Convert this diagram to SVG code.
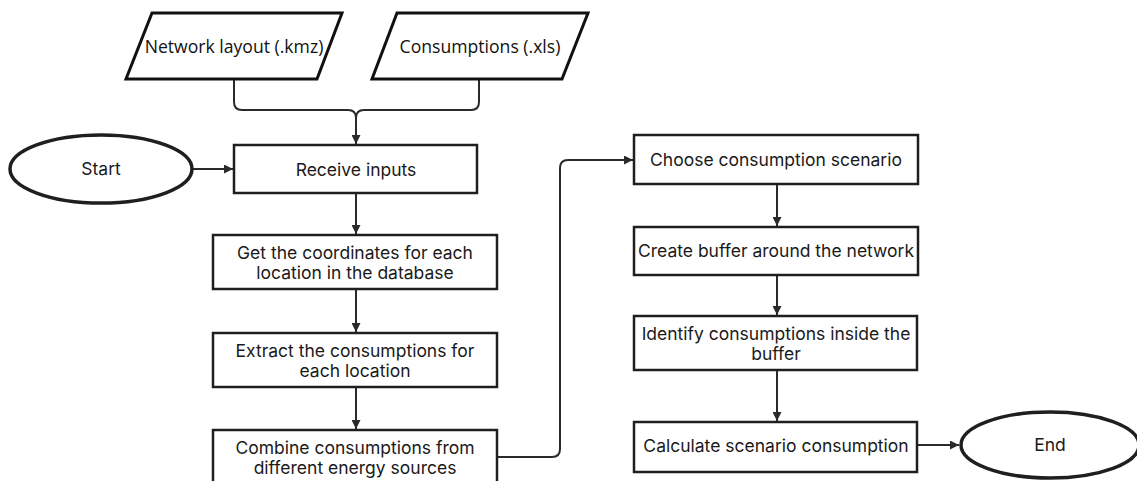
<svg xmlns="http://www.w3.org/2000/svg" width="1137" height="481" viewBox="0 0 1137 481">
<defs>
<style>
.box{fill:#fff;stroke:#1f1f1f;stroke-width:2.5}
.para{fill:#fff;stroke:#111;stroke-width:3}
.oval{fill:#fff;stroke:#1f1f1f;stroke-width:3.5}
.t{font-family:Inter,"Liberation Sans",sans-serif;font-size:17.5px;fill:#1a1a1a;text-anchor:middle}
.tp{font-family:"Open Sans","Liberation Sans",sans-serif;font-size:17.6px;fill:#111;text-anchor:middle}
.c{fill:none;stroke:#2a2a2a;stroke-width:2}
</style>
<marker id="ah" viewBox="0 0 10 10" refX="10" refY="5" markerWidth="9" markerHeight="9" orient="auto" markerUnits="userSpaceOnUse">
<path d="M0,0 L10,5 L0,10 z" fill="#2a2a2a"/>
</marker>
</defs>
<g id="connectors">
<path class="c" d="M234,79 V102 Q234,110 242,110 H348 Q356,110 356,118 V144" marker-end="url(#ah)"/>
<path class="c" d="M479,79 V102 Q479,110 471,110 H364 Q356,110 356,118"/>
<path class="c" d="M193,169 H233" marker-end="url(#ah)"/>
<path class="c" d="M356,193 V234" marker-end="url(#ah)"/>
<path class="c" d="M356,289 V332" marker-end="url(#ah)"/>
<path class="c" d="M356,387 V429" marker-end="url(#ah)"/>
<path class="c" d="M497,457 H552 Q560,457 560,449 V168 Q560,160 568,160 H633" marker-end="url(#ah)"/>
<path class="c" d="M777,184 V226" marker-end="url(#ah)"/>
<path class="c" d="M777,275 V315" marker-end="url(#ah)"/>
<path class="c" d="M777,370 V421" marker-end="url(#ah)"/>
<path class="c" d="M917,445 H959" marker-end="url(#ah)"/>
</g>
<g id="network-layout">
<polygon class="para" points="152,13 342,13 317,79 126,79"/>
<text class="tp" x="234" y="53">Network layout (.kmz)</text>
</g>
<g id="consumptions-xls">
<polygon class="para" points="397,13 588,13 562,79 372,79"/>
<text class="tp" x="480" y="53">Consumptions (.xls)</text>
</g>
<g id="start">
<ellipse class="oval" cx="101" cy="169" rx="91" ry="34"/>
<text class="t" x="101" y="175">Start</text>
</g>
<g id="receive-inputs">
<rect class="box" x="234" y="145" width="243" height="48"/>
<text class="t" x="356" y="176">Receive inputs</text>
</g>
<g id="get-coordinates">
<rect class="box" x="213" y="235" width="284" height="54"/>
<text class="t" x="355" y="259">Get the coordinates for each</text>
<text class="t" x="355" y="279">location in the database</text>
</g>
<g id="extract-consumptions">
<rect class="box" x="213" y="333" width="284" height="54"/>
<text class="t" x="355" y="357">Extract the consumptions for</text>
<text class="t" x="355" y="377">each location</text>
</g>
<g id="combine-consumptions">
<rect class="box" x="213" y="430" width="284" height="60"/>
<text class="t" x="355" y="454">Combine consumptions from</text>
<text class="t" x="355" y="474">different energy sources</text>
</g>
<g id="choose-scenario">
<rect class="box" x="634" y="135" width="284" height="49"/>
<text class="t" x="776" y="166">Choose consumption scenario</text>
</g>
<g id="create-buffer">
<rect class="box" x="634" y="227" width="284" height="48"/>
<text class="t" x="776" y="257">Create buffer around the network</text>
</g>
<g id="identify-consumptions">
<rect class="box" x="634" y="316" width="283" height="54"/>
<text class="t" x="776" y="340">Identify consumptions inside the</text>
<text class="t" x="776" y="360">buffer</text>
</g>
<g id="calculate-consumption">
<rect class="box" x="634" y="422" width="283" height="50"/>
<text class="t" x="776" y="452">Calculate scenario consumption</text>
</g>
<g id="end">
<ellipse class="oval" cx="1050" cy="445" rx="89" ry="33"/>
<text class="t" x="1050" y="451">End</text>
</g>
</svg>
